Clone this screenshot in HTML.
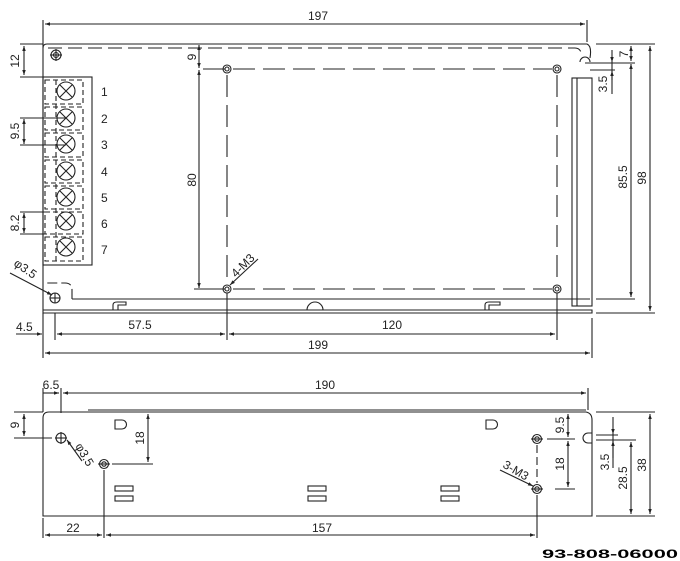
<!DOCTYPE html>
<html><head><style>
html,body{margin:0;padding:0;background:#fff;}
svg{display:block;}
text{font-family:"Liberation Sans",sans-serif;font-size:12px;fill:#222;}
</style></head><body>
<svg width="680" height="561" viewBox="0 0 680 561" xmlns="http://www.w3.org/2000/svg">
<defs>
<marker id="a" viewBox="0 0 10 10" refX="10" refY="5" markerWidth="7" markerHeight="5" orient="auto-start-reverse" markerUnits="userSpaceOnUse"><path d="M0,1.5 L10,5 L0,8.5z" fill="#222"/></marker>
</defs>
<g stroke="#222" stroke-width="1.1" fill="none">
<path d="M43,48 Q43,44 47,44 L587,44 Q592,46 590,58"/>
<path d="M48,48 L575,48 Q581,48 582,56" stroke-dasharray="14,6"/>
<path d="M43,44 L43,313 L592,313 L592,310 L43,310"/>
<line x1="72" y1="299" x2="590" y2="299"/>
<path d="M72,299 L72,290 Q72,283 65,283 L45,283" stroke-dasharray="10,4"/>
<circle cx="55" cy="298" r="5"/><line x1="50" y1="298" x2="60" y2="298"/><line x1="55" y1="293" x2="55" y2="303"/>
<circle cx="56" cy="55" r="5"/><circle cx="56" cy="55" r="2.5"/><line x1="50" y1="55" x2="62" y2="55"/><line x1="56" y1="49" x2="56" y2="61"/>
<path d="M580,62 A5,5 0 0 1 590,62"/>
<rect x="572" y="78" width="20" height="228"/><line x1="577" y1="78" x2="577" y2="306"/>
<rect x="43" y="77" width="49" height="188"/>
<g stroke-dasharray="5,3">
<rect x="45" y="80" width="38" height="24"/><rect x="45" y="107" width="38" height="23"/><rect x="45" y="133" width="38" height="24"/><rect x="45" y="160" width="38" height="23"/><rect x="45" y="186" width="38" height="23"/><rect x="45" y="212" width="38" height="22"/><rect x="45" y="237" width="38" height="24"/>
<line x1="56" y1="80" x2="56" y2="261"/>
</g>
<g>
<circle cx="66" cy="91" r="9"/><path d="M60,85 L72,97 M72,85 L60,97"/>
<circle cx="66" cy="118" r="9"/><path d="M60,112 L72,124 M72,112 L60,124"/>
<circle cx="66" cy="144" r="9"/><path d="M60,138 L72,150 M72,138 L60,150"/>
<circle cx="66" cy="171" r="9"/><path d="M60,165 L72,177 M72,165 L60,177"/>
<circle cx="66" cy="197" r="9"/><path d="M60,191 L72,203 M72,191 L60,203"/>
<circle cx="66" cy="221" r="9"/><path d="M60,215 L72,227 M72,215 L60,227"/>
<circle cx="66" cy="247" r="9"/><path d="M60,241 L72,253 M72,241 L60,253"/>
</g>
<g stroke-dasharray="22,8">
<line x1="203" y1="69" x2="552" y2="69"/><line x1="203" y1="289" x2="552" y2="289"/>
<line x1="227" y1="75" x2="227" y2="283"/><line x1="557" y1="75" x2="557" y2="283"/>
</g>
<g>
<circle cx="227" cy="69" r="4"/><circle cx="227" cy="69" r="2"/>
<circle cx="557" cy="69" r="4"/><circle cx="557" cy="69" r="2"/>
<circle cx="227" cy="289" r="4"/><circle cx="227" cy="289" r="2"/>
<circle cx="557" cy="289" r="4"/><circle cx="557" cy="289" r="2"/>
</g>
<path d="M113,310 L113,305 Q113,302 117,302 L126,302 L126,305 L118,305 L118,310"/>
<path d="M307,310 A8,8 0 0 1 323,310"/>
<path d="M485,310 L485,305 Q485,302 489,302 L500,302 L500,305 L489,305 L489,310"/>
<line x1="43" y1="20" x2="43" y2="44"/><line x1="587" y1="20" x2="587" y2="42"/>
<line x1="45" y1="24" x2="585" y2="24" marker-start="url(#a)" marker-end="url(#a)"/>
<line x1="20" y1="44" x2="43" y2="44"/><line x1="20" y1="77" x2="43" y2="77"/>
<line x1="24" y1="46" x2="24" y2="75" marker-start="url(#a)" marker-end="url(#a)"/>
<line x1="20" y1="118" x2="66" y2="118"/><line x1="20" y1="145" x2="66" y2="145"/>
<line x1="24" y1="119" x2="24" y2="144" marker-start="url(#a)" marker-end="url(#a)"/>
<line x1="20" y1="212" x2="45" y2="212"/><line x1="20" y1="234" x2="45" y2="234"/>
<line x1="24" y1="213" x2="24" y2="233" marker-start="url(#a)" marker-end="url(#a)"/>
<line x1="199" y1="45" x2="199" y2="68" marker-start="url(#a)" marker-end="url(#a)"/>
<line x1="199" y1="70" x2="199" y2="288" marker-start="url(#a)" marker-end="url(#a)"/>
<line x1="194" y1="289" x2="222" y2="289"/>
<line x1="10" y1="273" x2="52" y2="295" marker-end="url(#a)"/>
<line x1="258" y1="259" x2="230" y2="285" marker-end="url(#a)"/>
<line x1="596" y1="44" x2="655" y2="44"/><line x1="596" y1="313" x2="655" y2="313"/>
<line x1="596" y1="299" x2="635" y2="299"/>
<line x1="585" y1="63" x2="635" y2="63"/><line x1="590" y1="70" x2="615" y2="70"/>
<line x1="650" y1="46" x2="650" y2="311" marker-start="url(#a)" marker-end="url(#a)"/>
<line x1="631" y1="64" x2="631" y2="297" marker-start="url(#a)" marker-end="url(#a)"/>
<line x1="631" y1="46" x2="631" y2="61" marker-start="url(#a)" marker-end="url(#a)"/>
<line x1="612" y1="50" x2="612" y2="62" marker-end="url(#a)"/><line x1="612" y1="80" x2="612" y2="71" marker-end="url(#a)"/><line x1="612" y1="62" x2="612" y2="94"/>
<line x1="55" y1="313" x2="55" y2="340"/><line x1="227" y1="293" x2="227" y2="340"/><line x1="557" y1="293" x2="557" y2="340"/>
<line x1="16" y1="334" x2="42" y2="334" marker-end="url(#a)"/>
<line x1="57" y1="334" x2="225" y2="334" marker-start="url(#a)" marker-end="url(#a)"/>
<line x1="229" y1="334" x2="555" y2="334" marker-start="url(#a)" marker-end="url(#a)"/>
<line x1="43" y1="313" x2="43" y2="358"/><line x1="592" y1="318" x2="592" y2="358"/>
<line x1="45" y1="353" x2="590" y2="353" marker-start="url(#a)" marker-end="url(#a)"/>

<path d="M43,418 Q43,412 49,412 L586,412 Q592,413 592,420 L592,516 L43,516 Z"/>
<line x1="88" y1="410" x2="586" y2="410"/>
<path d="M592,433 L588,433 A5,5 0 0 0 588,443 L592,443"/>
<circle cx="61" cy="438" r="5"/><line x1="55" y1="438" x2="67" y2="438"/><line x1="61" y1="432" x2="61" y2="444"/>
<circle cx="104" cy="464" r="4.5"/><circle cx="104" cy="464" r="2.2"/><line x1="98" y1="464" x2="110" y2="464"/>
<circle cx="537" cy="439" r="4.5"/><circle cx="537" cy="439" r="2.2"/><line x1="531" y1="439" x2="543" y2="439"/>
<circle cx="537" cy="489" r="4.5"/><circle cx="537" cy="489" r="2.2"/><line x1="531" y1="489" x2="543" y2="489"/>
<path d="M115,420 L122,420 A4,4 0 0 1 122,429 L115,429 Z"/>
<path d="M486,420 L493,420 A4,4 0 0 1 493,429 L486,429 Z"/>
<rect x="115" y="486" width="18" height="5"/><rect x="115" y="496" width="18" height="5"/>
<rect x="308" y="486" width="18" height="5"/><rect x="308" y="496" width="18" height="5"/>
<rect x="441" y="486" width="18" height="5"/><rect x="441" y="496" width="18" height="5"/>
<line x1="43" y1="388" x2="43" y2="412"/><line x1="61" y1="388" x2="61" y2="413"/><line x1="588" y1="388" x2="588" y2="410"/>
<line x1="43" y1="393" x2="59" y2="393" marker-end="url(#a)"/>
<line x1="63" y1="393" x2="586" y2="393" marker-start="url(#a)" marker-end="url(#a)"/>
<line x1="14" y1="412" x2="43" y2="412"/><line x1="14" y1="438" x2="52" y2="438"/>
<line x1="24" y1="414" x2="24" y2="436" marker-start="url(#a)" marker-end="url(#a)"/>
<line x1="112" y1="464" x2="153" y2="464"/>
<line x1="148" y1="414" x2="148" y2="462" marker-start="url(#a)" marker-end="url(#a)"/>
<line x1="67" y1="440" x2="82" y2="461" marker-start="url(#a)"/>
<line x1="104" y1="470" x2="104" y2="538"/><line x1="537" y1="495" x2="537" y2="538"/><line x1="537" y1="445" x2="537" y2="483" stroke-dasharray="8,4"/>
<line x1="43" y1="518" x2="43" y2="538"/>
<line x1="45" y1="535" x2="102" y2="535" marker-start="url(#a)" marker-end="url(#a)"/>
<line x1="106" y1="535" x2="535" y2="535" marker-start="url(#a)" marker-end="url(#a)"/>
<line x1="547" y1="439" x2="575" y2="439"/><line x1="555" y1="489" x2="575" y2="489"/>
<line x1="568" y1="414" x2="568" y2="437" marker-start="url(#a)" marker-end="url(#a)"/>
<line x1="568" y1="441" x2="568" y2="487" marker-start="url(#a)" marker-end="url(#a)"/>
<line x1="596" y1="412" x2="655" y2="412"/><line x1="596" y1="516" x2="655" y2="516"/>
<line x1="596" y1="435" x2="618" y2="435"/><line x1="596" y1="440" x2="636" y2="440"/>
<line x1="613" y1="417" x2="613" y2="434" marker-end="url(#a)"/><line x1="613" y1="458" x2="613" y2="441" marker-end="url(#a)"/><line x1="613" y1="434" x2="613" y2="468"/>
<line x1="631" y1="442" x2="631" y2="514" marker-start="url(#a)" marker-end="url(#a)"/>
<line x1="650" y1="414" x2="650" y2="514" marker-start="url(#a)" marker-end="url(#a)"/>
<line x1="500" y1="470" x2="533" y2="486" marker-end="url(#a)"/>
</g>
<text x="318" y="20" text-anchor="middle">197</text>
<text x="101" y="96">1</text><text x="101" y="123">2</text><text x="101" y="149">3</text><text x="101" y="176">4</text><text x="101" y="202">5</text><text x="101" y="228">6</text><text x="101" y="254">7</text>
<text transform="translate(19,61) rotate(-90)" text-anchor="middle">12</text>
<text transform="translate(19,131) rotate(-90)" text-anchor="middle">9.5</text>
<text transform="translate(19,223) rotate(-90)" text-anchor="middle">8.2</text>
<text transform="translate(196,57) rotate(-90)" text-anchor="middle" font-size="11">9</text>
<text transform="translate(196,180) rotate(-90)" text-anchor="middle">80</text>
<text transform="translate(13,265) rotate(35)" font-size="11">φ3.5</text>
<text transform="translate(236,278) rotate(-45)" font-size="11">4-M3</text>
<text transform="translate(627,177) rotate(-90)" text-anchor="middle">85.5</text>
<text transform="translate(646,178) rotate(-90)" text-anchor="middle">98</text>
<text transform="translate(628,54) rotate(-90)" text-anchor="middle">7</text>
<text transform="translate(607,84) rotate(-90)" text-anchor="middle">3.5</text>
<text x="16" y="331">4.5</text>
<text x="140" y="329" text-anchor="middle">57.5</text>
<text x="392" y="329" text-anchor="middle">120</text>
<text x="318" y="349" text-anchor="middle">199</text>
<text x="51" y="389" text-anchor="middle">6.5</text>
<text x="325" y="389" text-anchor="middle">190</text>
<text transform="translate(19,425) rotate(-90)" text-anchor="middle">9</text>
<text transform="translate(144,438) rotate(-90)" text-anchor="middle">18</text>
<text transform="translate(75,446) rotate(60)" font-size="11">φ3.5</text>
<text x="73" y="532" text-anchor="middle">22</text>
<text x="322" y="532" text-anchor="middle">157</text>
<text transform="translate(564,425) rotate(-90)" text-anchor="middle">9.5</text>
<text transform="translate(564,464) rotate(-90)" text-anchor="middle">18</text>
<text transform="translate(502,467) rotate(30)" font-size="11">3-M3</text>
<text transform="translate(609,462) rotate(-90)" text-anchor="middle">3.5</text>
<text transform="translate(627,478) rotate(-90)" text-anchor="middle">28.5</text>
<text transform="translate(646,465) rotate(-90)" text-anchor="middle">38</text>
<text x="542" y="558" font-size="21" font-weight="bold" textLength="136" lengthAdjust="spacingAndGlyphs" style="fill:#000">93-808-06000</text>
</svg>
</body></html>
